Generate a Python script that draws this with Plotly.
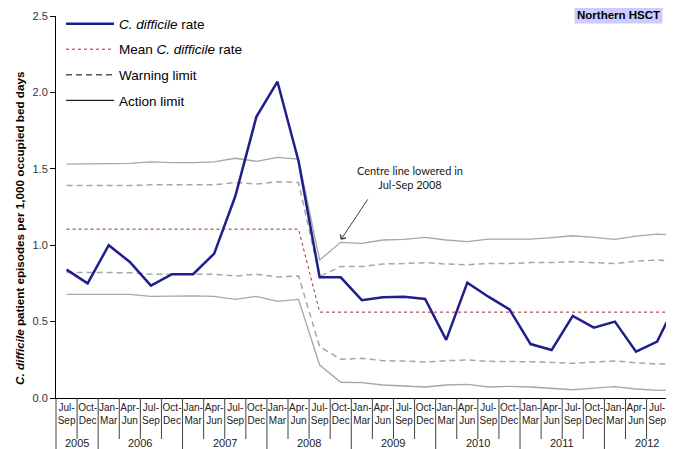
import plotly.graph_objects as go

# ---------------- data ----------------
quarter_labels = ["Jul-Sep", "Oct-Dec",
                  "Jan-Mar", "Apr-Jun", "Jul-Sep", "Oct-Dec",
                  "Jan-Mar", "Apr-Jun", "Jul-Sep", "Oct-Dec",
                  "Jan-Mar", "Apr-Jun", "Jul-Sep", "Oct-Dec",
                  "Jan-Mar", "Apr-Jun", "Jul-Sep", "Oct-Dec",
                  "Jan-Mar", "Apr-Jun", "Jul-Sep", "Oct-Dec",
                  "Jan-Mar", "Apr-Jun", "Jul-Sep", "Oct-Dec",
                  "Jan-Mar", "Apr-Jun", "Jul-Sep", "Oct-Dec"]
year_labels = ["2005", "2006", "2007", "2008", "2009", "2010", "2011", "2012"]
year_counts = [2, 4, 4, 4, 4, 4, 4, 4]

rate = [0.84, 0.75, 1.00, 0.89, 0.735, 0.81, 0.81, 0.945, 1.32, 1.84,
        2.07, 1.55, 0.79, 0.79, 0.64, 0.66, 0.663, 0.648, 0.38, 0.755,
        0.663, 0.58, 0.353, 0.314, 0.537, 0.46, 0.50, 0.303, 0.369, 0.65]

mean_rate = [1.105, 1.105, 1.105, 1.105, 1.105, 1.105, 1.105, 1.105, 1.105, 1.105,
             1.105, 1.105, 0.562, 0.562, 0.562, 0.562, 0.562, 0.562, 0.562, 0.562,
             0.562, 0.562, 0.562, 0.562, 0.562, 0.562, 0.562, 0.562, 0.562, 0.562]

upper_warning = [1.39, 1.39, 1.39, 1.39, 1.395, 1.395, 1.395, 1.395, 1.41, 1.40,
                 1.415, 1.41, 0.795, 0.86, 0.86, 0.877, 0.88, 0.886, 0.877, 0.872,
                 0.88, 0.88, 0.886, 0.886, 0.892, 0.886, 0.88, 0.895, 0.903, 0.896]
lower_warning = [0.822, 0.82, 0.82, 0.82, 0.81, 0.81, 0.81, 0.81, 0.798, 0.81,
                 0.792, 0.80, 0.336, 0.253, 0.26, 0.244, 0.242, 0.235, 0.244, 0.249,
                 0.24, 0.24, 0.237, 0.233, 0.227, 0.235, 0.242, 0.231, 0.222, 0.227]
upper_action = [1.531, 1.531, 1.535, 1.535, 1.545, 1.54, 1.54, 1.545, 1.569, 1.549,
                1.575, 1.564, 0.903, 1.019, 1.012, 1.034, 1.038, 1.051, 1.034, 1.023,
                1.04, 1.038, 1.04, 1.05, 1.062, 1.051, 1.038, 1.06, 1.073, 1.064]
lower_action = [0.678, 0.678, 0.678, 0.678, 0.665, 0.668, 0.668, 0.665, 0.646, 0.665,
                0.633, 0.645, 0.216, 0.103, 0.10, 0.085, 0.08, 0.072, 0.085, 0.089,
                0.072, 0.076, 0.072, 0.065, 0.054, 0.065, 0.074, 0.059, 0.05, 0.054]

# ---------------- build ----------------
year_of_period = []
for y, n in zip(year_labels, year_counts):
    year_of_period += [y] * n
periods = [f"{q} {y}" for q, y in zip(quarter_labels, year_of_period)]
tick_text = [q.replace("-", "-<br>") for q in quarter_labels]

XR = [-0.5, 28.8]
FONT = "Liberation Sans, Arial, sans-serif"
GRAY = "#A6A6A6"

# page body has an 8px margin -> figure drawn 8px in from the window corner
W, H = 666, 441
ML, MR, MT, MB = 48, 0, 8, 51
plot_w = W - ML - MR
plot_h = H - MT - MB

def xpaper(v):
    return (v - XR[0]) / (XR[1] - XR[0])

fig = go.Figure()

def line_trace(y, color, width, dash):
    return go.Scatter(x=periods, y=y, mode="lines", showlegend=False,
                      line=dict(color=color, width=width, dash=dash),
                      hoverinfo="skip")

fig.add_trace(line_trace(upper_action, GRAY, 1.3, "solid"))
fig.add_trace(line_trace(lower_action, GRAY, 1.3, "solid"))
fig.add_trace(line_trace(upper_warning, GRAY, 1.5, "6px,4px"))
fig.add_trace(line_trace(lower_warning, GRAY, 1.5, "6px,4px"))
fig.add_trace(line_trace(mean_rate, "#A52A2A", 1, "dot"))
fig.add_trace(go.Scatter(x=periods, y=rate, mode="lines", showlegend=False,
                         line=dict(color="#1F1F8C", width=2.5)))

# legend entries
legend_items = [
    ("<i>C. difficile</i> rate", "#1F1F8C", 2.5, "solid"),
    ("Mean <i>C. difficile</i> rate", "#A52A2A", 1, "dot"),
    ("Warning limit", "#555555", 1.3, "6px,4px"),
    ("Action limit", "#222222", 1.2, "solid"),
]
for i, (nm, c, w, d) in enumerate(legend_items):
    fig.add_trace(go.Scatter(x=[None], y=[None], mode="lines", name=nm,
                             legendgroup=f"g{i}", legendrank=i + 1,
                             line=dict(color=c, width=w, dash=d)))

# x-axis dividers (quarter and year boundaries)
shapes = []
year_starts = []
acc = 0
for n in year_counts:
    year_starts.append(acc)
    acc += n
for i in range(len(periods) + 1):
    b = i - 0.5
    if b > XR[1]:
        break
    is_year = i in year_starts
    shapes.append(dict(type="line", xref="paper", yref="paper",
                       x0=xpaper(b), x1=xpaper(b), y0=0,
                       y1=-(51 if is_year else 41) / plot_h,
                       line=dict(color="#404040", width=1)))

annotations = []
for y, s, n in zip(year_labels, year_starts, year_counts):
    c = s + (n - 1) / 2
    annotations.append(dict(xref="paper", yref="paper",
                            x=xpaper(c), y=-37 / plot_h,
                            xanchor="center", yanchor="top", showarrow=False,
                            text=y, font=dict(family=FONT, size=11, color="#222")))

annotations.append(dict(xref="x", yref="y", x=periods[13], y=1.035,
                        ax=28, ay=-42, text="", showarrow=True,
                        arrowhead=4, arrowsize=1.3, arrowwidth=1,
                        arrowcolor="#404040", standoff=0))
annotations.append(dict(xref="paper", yref="paper",
                        x=(410 - 56) / plot_w, y=(398 - 177) / plot_h,
                        xanchor="center", yanchor="middle", showarrow=False,
                        text="Centre line lowered in<br>Jul-Sep 2008",
                        font=dict(family="Lato, Carlito, sans-serif", size=11, color="#1a1a1a")))
annotations.append(dict(xref="paper", yref="paper",
                        x=(618 - 56) / plot_w, y=(398 - 15) / plot_h,
                        xanchor="center", yanchor="middle", showarrow=False,
                        text="<b>Northern HSCT</b>", bgcolor="#CCCCFF", borderpad=2,
                        font=dict(family=FONT, size=11.5, color="#000")))
# y-axis title
annotations.append(dict(xref="paper", yref="paper",
                        x=(19 - 56) / plot_w, y=(398 - 228) / plot_h,
                        xanchor="center", yanchor="middle",
                        textangle=-90, showarrow=False,
                        text="<b><i>C. difficile</i> patient episodes per 1,000 occupied bed days</b>",
                        font=dict(family=FONT, size=11.7, color="#000")))

fig.update_layout(
    width=W, height=H,
    margin=dict(l=ML, r=MR, t=MT, b=MB),
    paper_bgcolor="white", plot_bgcolor="white",
    font=dict(family=FONT, color="#222"),
    showlegend=True,
    legend=dict(x=(61 - 56) / plot_w, y=1.02, xanchor="left", yanchor="top",
                bgcolor="rgba(0,0,0,0)", traceorder="grouped", tracegroupgap=5,
                itemwidth=48, font=dict(family=FONT, size=13.5, color="#000")),
    xaxis=dict(type="category", range=XR, showgrid=False, zeroline=False,
               showline=True, linecolor="#000", linewidth=1, ticks="",
               tickmode="array", tickvals=periods, ticktext=tick_text,
               tickfont=dict(family=FONT, size=10, color="#222"),
               automargin=False, tickangle=0),
    yaxis=dict(range=[0, 2.5], dtick=0.5, tickformat=".1f", showgrid=False,
               zeroline=False, showline=True, linecolor="#000", linewidth=1,
               ticks="outside", ticklen=5, tickcolor="#000",
               tickfont=dict(family=FONT, size=11, color="#333"),
               automargin=False),
    shapes=shapes, annotations=annotations,
)

fig.write_html("out.html")
